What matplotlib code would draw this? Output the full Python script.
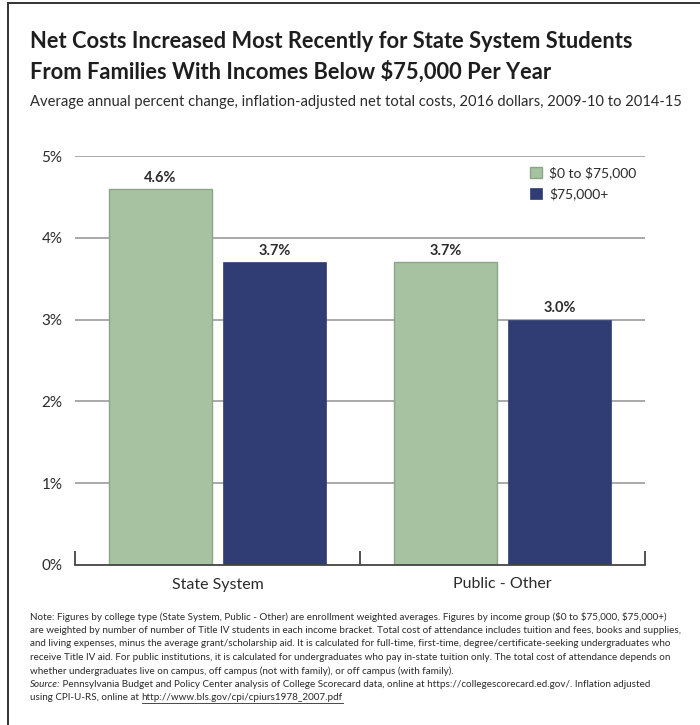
import matplotlib
matplotlib.use("Agg")
import matplotlib.pyplot as plt
from matplotlib import font_manager
from matplotlib.lines import Line2D

# data
categories = ["State System", "Public - Other"]
series_names = ["$0 to $75,000", "$75,000+"]
low_income = [4.6, 3.7]
high_income = [3.7, 3.0]
y_ticks = [0, 1, 2, 3, 4, 5]

title_lines = [
    "Net Costs Increased Most Recently for State System Students",
    "From Families With Incomes Below $75,000 Per Year",
]
subtitle = ("Average annual percent change, inflation-adjusted net total costs, "
            "2016 dollars, 2009-10 to 2014-15")
note_lines = [
    "Note: Figures by college type (State System, Public - Other) are enrollment weighted averages. "
    "Figures by income group ($0 to $75,000, $75,000+)",
    "are weighted by number of number of Title IV students in each income bracket. Total cost of "
    "attendance includes tuition and fees, books and supplies,",
    "and living expenses, minus the average grant/scholarship aid. It is calculated for full-time, "
    "first-time, degree/certificate-seeking undergraduates who",
    "receive Title IV aid. For public institutions, it is calculated for undergraduates who pay "
    "in-state tuition only. The total cost of attendance depends on",
    "whether undergraduates live on campus, off campus (not with family), or off campus (with family).",
]
source_label = "Source:"
source_lines = [
    " Pennsylvania Budget and Policy Center analysis of College Scorecard data, online at "
    "https://collegescorecard.ed.gov/. Inflation adjusted",
    "using CPI-U-RS, online at ",
]
source_url = "http://www.bls.gov/cpi/cpiurs1978_2007.pdf"

GREEN = "#a6c2a0"
GREEN_EDGE = "#8ba687"
NAVY = "#2f3d74"
TEXT = "#2b2b2b"
GRID = "#a3a3a3"

installed = {f.name for f in font_manager.fontManager.ttflist}
MAIN_FONT = "Lato" if "Lato" in installed else "DejaVu Sans"
NOTE_FONT = "Liberation Sans Narrow" if "Liberation Sans Narrow" in installed else MAIN_FONT
plt.rcParams["font.family"] = [MAIN_FONT, "DejaVu Sans"]

W, H, DPI = 700, 725, 100
fig = plt.figure(figsize=(W / DPI, H / DPI), dpi=DPI)
renderer = fig.canvas.get_renderer()


def px(x, y):
    # pixel coords (origin top-left) -> figure fraction
    return x / W, 1 - y / H


def ftext(x, y, s, **kw):
    return fig.text(*px(x, y), s, parse_math=False, va="center", **kw)


def fit_size(text, width_px, size, **kw):
    t = fig.text(0, 0, text, fontsize=size, parse_math=False, **kw)
    w = t.get_window_extent(renderer).width
    t.remove()
    return size * width_px / w


# frame around the graphic
fig.add_artist(Line2D([8 / W, 8 / W], [0, 1 - 3 / H], transform=fig.transFigure,
                      color="#333333", lw=1.4))
fig.add_artist(Line2D([8 / W, 1], [1 - 3 / H, 1 - 3 / H], transform=fig.transFigure,
                      color="#333333", lw=1.4))

# title block
tsize = fit_size(title_lines[0], 605, 16, fontweight="bold")
for line, y in zip(title_lines, [42, 72]):
    ftext(30, y, line, fontsize=tsize, fontweight="bold", color="#1e1e1e")
ssize = fit_size(subtitle, 648, 11)
ftext(30, 102, subtitle, fontsize=ssize, color=TEXT)

# chart
ax = fig.add_axes([75 / W, 1 - 565 / H, 570 / W, 409 / H])
x = list(range(len(categories)))
width = 0.36
offset = 0.2
b1 = ax.bar([i - offset for i in x], low_income, width, color=GREEN, edgecolor=GREEN_EDGE,
            linewidth=1, label=series_names[0].replace("$", r"\$"), zorder=3)
b2 = ax.bar([i + offset for i in x], high_income, width, color=NAVY, edgecolor=NAVY,
            linewidth=0.5, label=series_names[1].replace("$", r"\$"), zorder=3)
for bars, vals in [(b1, low_income), (b2, high_income)]:
    for rect, v in zip(bars, vals):
        ax.annotate(f"{v:.1f}%", (rect.get_x() + rect.get_width() / 2, v),
                    xytext=(0, 3), textcoords="offset points", ha="center", va="bottom",
                    fontsize=10.5, fontweight="bold", color=TEXT)

ax.set_xlim(-0.5, len(categories) - 0.5)
ax.set_ylim(0, 5)
ax.set_yticks(y_ticks)
ax.set_yticklabels([f"{t}%" for t in y_ticks], fontsize=11, color=TEXT)
ax.tick_params(axis="y", length=0, pad=9)
for t in y_ticks[1:]:
    ax.axhline(t, color=GRID, lw=1.3, zorder=1)

# category boundary ticks on the baseline, names as minor ticks
ax.set_xticks([i - 0.5 for i in range(len(categories) + 1)])
ax.set_xticklabels([])
ax.tick_params(axis="x", which="major", direction="in", length=10, width=1.3, color="#444444")
ax.set_xticks(x, minor=True)
ax.set_xticklabels(categories, minor=True, fontsize=11.5, color=TEXT)
ax.tick_params(axis="x", which="minor", length=0, pad=9)

for s in ["top", "right", "left"]:
    ax.spines[s].set_visible(False)
ax.spines["bottom"].set_color("#444444")
ax.spines["bottom"].set_linewidth(1.3)
ax.spines["bottom"].set_zorder(4)

leg = ax.legend(loc="upper right", bbox_to_anchor=(1.0, 0.995), frameon=False, fontsize=10,
                handlelength=0.9, handleheight=0.9, handletextpad=0.5, labelspacing=0.6,
                borderaxespad=0.2)
for txt in leg.get_texts():
    txt.set_color(TEXT)

# notes
nsize = fit_size(note_lines[1], 650, 7, family=NOTE_FONT)
ys = [617, 630.5, 644, 657.5, 671, 684.5, 698]
for line, y in zip(note_lines, ys):
    ftext(30, y, line, fontsize=nsize, family=NOTE_FONT, color=TEXT)

src = ftext(30, ys[5], source_label, fontsize=nsize, family=NOTE_FONT, style="italic", color=TEXT)
sx = 30 + src.get_window_extent(renderer).width
ftext(sx, ys[5], source_lines[0], fontsize=nsize, family=NOTE_FONT, color=TEXT)
pre = ftext(30, ys[6], source_lines[1], fontsize=nsize, family=NOTE_FONT, color=TEXT)
ux = 30 + pre.get_window_extent(renderer).width
url = ftext(ux, ys[6], source_url, fontsize=nsize, family=NOTE_FONT, color=TEXT)
uw = url.get_window_extent(renderer).width
fig.add_artist(Line2D([ux / W, (ux + uw) / W], [1 - (ys[6] + 5) / H] * 2,
                      transform=fig.transFigure, color=TEXT, lw=0.6))

fig.savefig("out.png", dpi=DPI)
